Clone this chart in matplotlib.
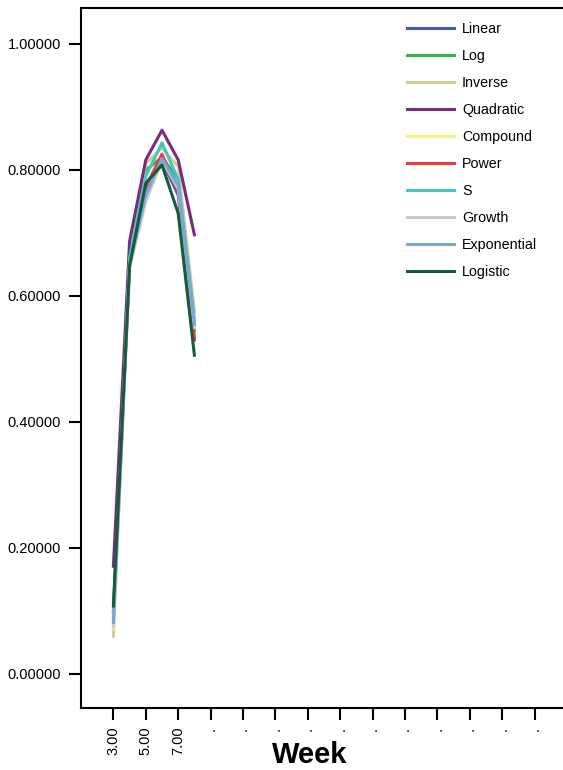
import matplotlib.pyplot as plt

plt.rcParams['font.family'] = ['Liberation Sans', 'DejaVu Sans']

weeks = [3, 4, 5, 6, 7, 8]

series_names = ['Linear', 'Log', 'Inverse', 'Quadratic', 'Compound',
                'Power', 'S', 'Growth', 'Exponential', 'Logistic']

linear = [0.100, 0.655, 0.770, 0.815, 0.760, 0.530]
log = [0.098, 0.660, 0.800, 0.820, 0.785, 0.545]
inverse = [0.060, 0.670, 0.810, 0.835, 0.805, 0.575]
quadratic = [0.171, 0.687, 0.816, 0.863, 0.816, 0.697]
compound = [0.072, 0.650, 0.760, 0.818, 0.770, 0.555]
power = [0.092, 0.655, 0.773, 0.825, 0.765, 0.533]
s_curve = [0.086, 0.660, 0.790, 0.843, 0.785, 0.562]
growth = [0.075, 0.645, 0.750, 0.815, 0.770, 0.550]
exponential = [0.082, 0.650, 0.760, 0.818, 0.775, 0.555]
logistic = [0.108, 0.648, 0.779, 0.808, 0.731, 0.506]

series_values = [linear, log, inverse, quadratic, compound,
                 power, s_curve, growth, exponential, logistic]

colors = ['#3F5DB5', '#2DB84A', '#D2CC92', '#7B2A82', '#F6F57C',
          '#F03A3C', '#45C6C6', '#CACACA', '#78A6D6', '#175C38']

x_ticks = list(range(3, 31, 2))
x_tick_labels = ['3.00', '5.00', '7.00'] + ['.'] * (len(x_ticks) - 3)
y_ticks = [0.0, 0.2, 0.4, 0.6, 0.8, 1.0]

fig = plt.figure(figsize=(5.63, 7.7), dpi=100)
ax = fig.add_axes([81 / 563, 62 / 770, 486 / 563, 700 / 770])

for name, vals, col in zip(series_names, series_values, colors):
    ax.plot(weeks, vals, color=col, linewidth=2.2, label=name)

ax.set_xlim(1, 31)
ax.set_ylim(-0.054, 1.057)

ax.set_yticks(y_ticks)
ax.set_yticklabels(['%.5f' % v for v in y_ticks], fontsize=10.5)
ax.set_xticks(x_ticks)
ax.set_xticklabels(x_tick_labels, rotation=90, fontsize=10.5)
ax.tick_params(axis='both', direction='out', length=8.5, width=1.5, colors='black')
ax.tick_params(axis='y', pad=6)
ax.tick_params(axis='x', pad=5)

for sp in ax.spines.values():
    sp.set_linewidth(1.5)

# axis title sits in the bottom strip, a little left of the axes centre
fig.text(310 / 563, 1 / 770, 'Week', ha='center', va='bottom',
         fontsize=21, fontweight='bold')

ax.legend(loc='upper left', bbox_to_anchor=(407 / 563, (770 - 22) / 770),
          bbox_transform=fig.transFigure, frameon=False, fontsize=10.3,
          borderpad=0, borderaxespad=0, handlelength=3.3, handletextpad=0.55,
          labelspacing=0.91)

fig.savefig('out.png', dpi=100)
